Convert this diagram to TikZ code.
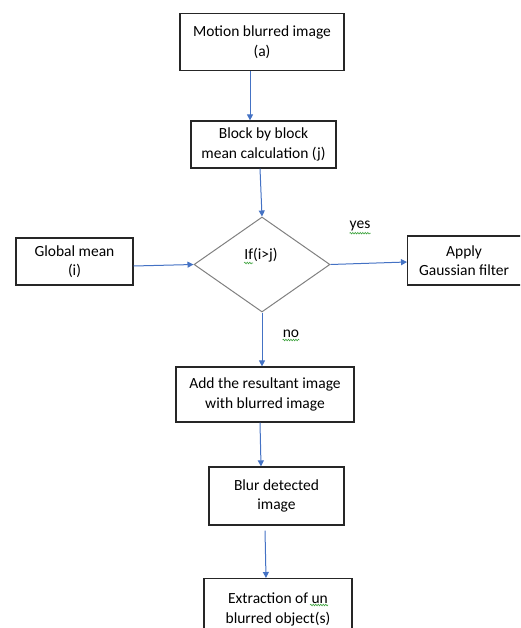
\documentclass[tikz,border=0pt]{standalone}
\usepackage{fontspec}
\setmainfont{Carlito}
\usetikzlibrary{arrows.meta,shapes.geometric,decorations.pathmorphing}
\definecolor{arrblue}{HTML}{4472C4}
\definecolor{spell}{HTML}{3FA33F}
\tikzset{
  box/.style={draw=black!85, line width=1.2pt, rectangle, align=center, inner sep=0pt,
    font=\fontsize{15.5}{19.5}\selectfont},
  dec/.style={draw=black!50, line width=1pt, diamond, inner sep=0pt},
  arr/.style={draw=arrblue, line width=1pt, -{Triangle[width=6pt,length=6pt]}},
  lbl/.style={font=\fontsize{15.5}{19}\selectfont, inner sep=0pt},
  squig/.style={draw=spell, line width=0.6pt, decorate, decoration={snake, segment length=2.5pt, amplitude=0.8pt}}
}
\begin{document}
\begin{tikzpicture}[x=1pt,y=-1pt]
\useasboundingbox (0,0) rectangle (520,628);
\clip (0,0) rectangle (520,628);
\node[box, minimum width=164pt, minimum height=57pt] (a) at (262,42) {Motion blurred image\\(a)};
\node[box, minimum width=145pt, minimum height=47pt] (b) at (263.5,144.5) {Block by block\\mean calculation (j)};
\node[dec, minimum width=136pt, minimum height=95pt] (d) at (262,264.5) {};
\node[lbl] (dt) at (261,255) {If(i>j)};
\node[box, minimum width=117pt, minimum height=47pt] (g) at (74.5,261.5) {Global mean\\(i)};
\node[box, minimum width=123pt, minimum height=49pt, anchor=west] (p) at (407,260.5) {\hspace*{-10pt}Apply\\\hspace*{-10pt}Gaussian filter};
\node[box, minimum width=178pt, minimum height=55pt] (c) at (265,394.5) {Add the resultant image\\with blurred image};
\node[box, minimum width=135pt, minimum height=58pt] (e) at (276.5,496) {Blur detected\\image};
\node[box, minimum width=148pt, minimum height=62pt, anchor=north] (f) at (278,578) {\raisebox{8pt}{\begin{tabular}{@{}c@{}}Extraction of un\\blurred object(s)\end{tabular}}};
\node[lbl] (yes) at (360,226) {yes};
\node[lbl] (no) at (291,334) {no};

\draw[arr] ([xshift=-12pt]a.south) -- ([xshift=-13.5pt]b.north);
\draw[arr] ([xshift=-3.5pt]b.south) -- (d.north);
\draw[arr] ([yshift=-4.5pt]g.east) -- (d.west);
\draw[arr] (d.east) -- ([yshift=-1.5pt]p.west);
\draw[arr] (d.south) -- ([xshift=-3pt]c.north);
\draw[arr] ([xshift=-5pt]c.south) -- ([xshift=-15.5pt]e.north);
\draw[arr] ([xshift=-11.5pt,yshift=-5pt]e.south) -- ([xshift=-12pt]f.north);

\draw[squig] ([yshift=-2pt]yes.south west) -- ([yshift=-2pt]yes.south east);
\draw[squig] ([yshift=-2pt]no.south west) -- ([yshift=-2pt]no.south east);
\draw[squig] (244,263) -- (253,263);
\draw[squig] (310,605) -- (328,605);
\end{tikzpicture}
\end{document}
